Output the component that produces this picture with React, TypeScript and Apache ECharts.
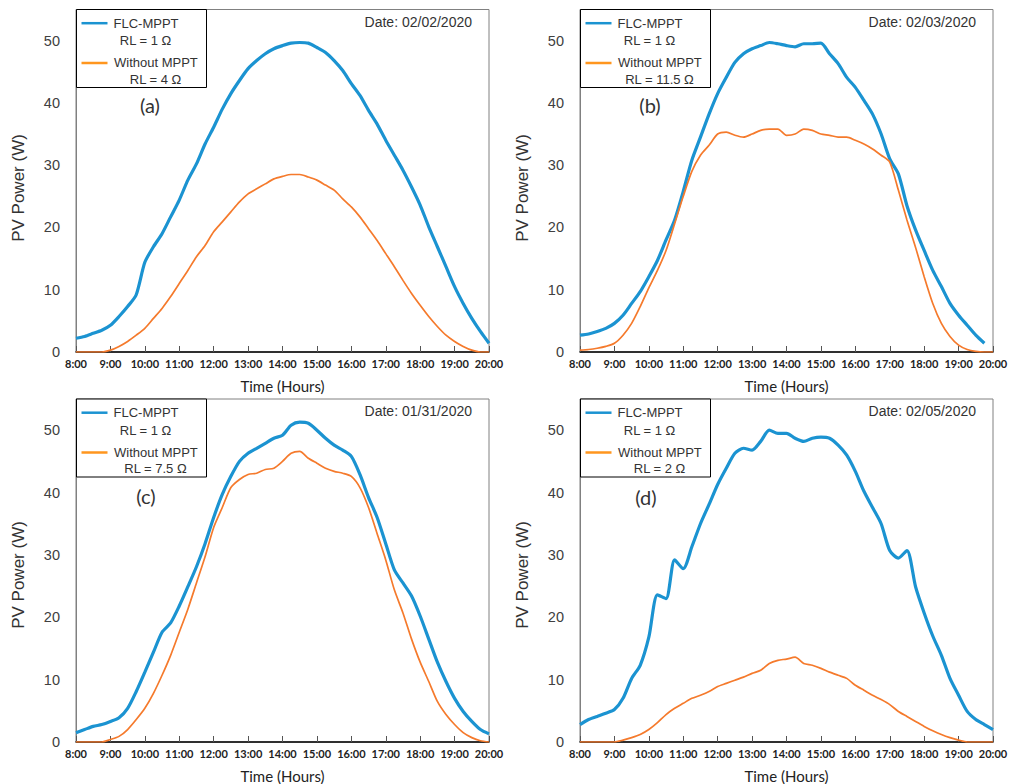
import React, { useEffect, useRef } from "react";
import * as echarts from "echarts";

// 15-minute time categories, 8:00 to 20:00
const times = [
  "8:00", "8:15", "8:30", "8:45", "9:00", "9:15", "9:30", "9:45",
  "10:00", "10:15", "10:30", "10:45", "11:00", "11:15", "11:30", "11:45",
  "12:00", "12:15", "12:30", "12:45", "13:00", "13:15", "13:30", "13:45",
  "14:00", "14:15", "14:30", "14:45", "15:00", "15:15", "15:30", "15:45",
  "16:00", "16:15", "16:30", "16:45", "17:00", "17:15", "17:30", "17:45",
  "18:00", "18:15", "18:30", "18:45", "19:00", "19:15", "19:30", "19:45",
  "20:00",
];

const yTicks = [0, 10, 20, 30, 40, 50];

// (a) 02/02/2020
const blueA = [
  2.2, 2.5, 3.0, 3.5, 4.3, 5.7, 7.3, 9.2, 14.4, 16.9, 19.0, 21.7,
  24.4, 27.6, 30.2, 33.4, 36.1, 39.0, 41.5, 43.6, 45.5, 46.8, 47.9, 48.7,
  49.2, 49.6, 49.7, 49.6, 48.9, 48.1, 46.8, 45.2, 43.1, 41.2, 38.8, 36.6,
  34.0, 31.6, 29.2, 26.5, 23.6, 20.1, 16.9, 13.7, 10.5, 7.8, 5.4, 3.3, 1.4,
];
const orangeA = [
  0, 0, 0, 0, 0.3, 0.9, 1.7, 2.7, 3.8, 5.4, 7.0, 8.9,
  11.0, 13.1, 15.3, 17.1, 19.3, 20.9, 22.5, 24.1, 25.4, 26.2, 27.0, 27.8,
  28.2, 28.5, 28.5, 28.1, 27.6, 26.8, 26.0, 24.6, 23.3, 21.7, 19.8, 17.9,
  15.8, 13.7, 11.5, 9.4, 7.5, 5.7, 4.1, 2.7, 1.7, 0.9, 0.3, 0, 0,
];

// (b) 02/03/2020
const blueB = [
  2.7, 2.9, 3.3, 3.8, 4.6, 5.9, 7.8, 9.7, 12.1, 14.7, 18.0, 21.2,
  25.8, 30.8, 34.5, 38.2, 41.5, 44.1, 46.5, 47.9, 48.7, 49.2, 49.7, 49.5,
  49.2, 49.0, 49.5, 49.5, 49.6, 47.9, 46.3, 44.1, 42.5, 40.4, 38.2, 35.0,
  31.0, 28.6, 23.5, 19.6, 16.3, 13.1, 10.5, 7.8, 5.9, 4.3, 2.7, 1.4, null,
];
const orangeB = [
  0.3, 0.4, 0.6, 0.9, 1.4, 2.7, 4.6, 7.3, 10.3, 13.1, 16.3, 20.6,
  25.0, 29.0, 31.6, 33.2, 35.0, 35.3, 34.8, 34.5, 35.0, 35.6, 35.8, 35.8,
  34.8, 35.0, 35.8, 35.6, 35.0, 34.8, 34.5, 34.5, 34.0, 33.4, 32.6, 31.6,
  30.5, 26.0, 21.2, 16.8, 12.1, 7.8, 4.6, 2.5, 1.1, 0.4, 0.1, 0, 0,
];

// (c) 01/31/2020
const blueC = [
  1.5, 2.0, 2.5, 2.8, 3.3, 3.9, 5.4, 8.1, 11.2, 14.4, 17.6, 19.1,
  21.8, 24.9, 28.1, 31.8, 36.0, 39.7, 42.6, 45.0, 46.3, 47.1, 47.9, 48.7,
  49.2, 50.8, 51.3, 51.1, 50.0, 48.7, 47.6, 46.8, 45.8, 42.9, 39.2, 36.0,
  31.8, 27.6, 25.5, 23.4, 20.2, 16.5, 12.8, 9.7, 7.0, 4.9, 3.3, 2.0, 1.3,
];
const orangeC = [
  0, 0, 0, 0, 0.4, 0.9, 2.0, 3.6, 5.4, 7.8, 10.7, 13.9,
  17.6, 21.3, 25.5, 29.7, 34.4, 37.6, 40.8, 42.1, 42.9, 43.1, 43.7, 43.9,
  45.0, 46.3, 46.6, 45.5, 44.7, 43.9, 43.4, 43.1, 42.6, 40.8, 37.6, 33.4,
  29.2, 24.4, 20.7, 16.5, 12.8, 9.7, 6.5, 4.4, 2.8, 1.5, 0.7, 0.2, 0,
];

// (d) 02/05/2020
const blueD = [
  2.8, 3.6, 4.1, 4.6, 5.2, 7.0, 10.2, 12.3, 16.8, 23.6, 23.0, 29.2,
  27.8, 31.3, 35.0, 38.1, 41.3, 43.9, 46.3, 47.1, 46.8, 48.2, 50.0, 49.5,
  49.5, 48.7, 48.2, 48.7, 48.9, 48.7, 47.6, 46.0, 43.4, 40.2, 37.6, 35.0,
  30.7, 29.5, 30.7, 24.9, 20.7, 17.0, 13.9, 10.2, 7.5, 4.9, 3.6, 2.8, 2.0,
];
const orangeD = [
  0, 0, 0, 0, 0, 0.3, 0.7, 1.2, 2.0, 3.1, 4.4, 5.4,
  6.2, 7.0, 7.5, 8.1, 8.9, 9.4, 9.9, 10.4, 11.0, 11.5, 12.6, 13.1,
  13.3, 13.6, 12.6, 12.3, 11.8, 11.2, 10.7, 10.2, 9.1, 8.3, 7.5, 6.8,
  6.0, 4.9, 4.1, 3.3, 2.5, 1.8, 1.2, 0.7, 0.3, 0, 0, 0, 0,
];

const blueName = "FLC-MPPT";
const blueRL = "RL = 1 Ω";
const orangeName = "Without MPPT";
const orangeRLs = ["RL = 4 Ω", "RL = 11.5 Ω", "RL = 7.5 Ω", "RL = 2 Ω"];
const dates = ["Date: 02/02/2020", "Date: 02/03/2020", "Date: 01/31/2020", "Date: 02/05/2020"];
const tags = ["(a)", "(b)", "(c)", "(d)"];
const blueSeries = [blueA, blueB, blueC, blueD];
const orangeSeries = [orangeA, orangeB, orangeC, orangeD];

const BLUE = "#1b93d1";
const ORANGE = "#f57a2c";
const ORANGE_LEG = "#ff961e";

const layout = [
  { left: 76, top: 9.5, height: 342.5, tagX: 150, tagY: 105, yTitleX: 18, yTitleY: 188 },
  { left: 580, top: 9.5, height: 342.5, tagX: 650, tagY: 105, yTitleX: 522, yTitleY: 188 },
  { left: 76, top: 399, height: 347, tagX: 146, tagY: 496, yTitleX: 18, yTitleY: 575 },
  { left: 580, top: 399, height: 347, tagX: 646, tagY: 497, yTitleX: 522, yTitleY: 575 },
];
const PLOT_W = 413;

function buildOption() {
  const grids: any[] = [];
  const xAxes: any[] = [];
  const yAxes: any[] = [];
  const series: any[] = [];
  const graphics: any[] = [];
  layout.forEach((L, i) => {
    grids.push({
      left: L.left,
      top: L.top,
      width: PLOT_W,
      height: L.height,
      show: true,
      borderColor: "#808080",
      borderWidth: 1,
      containLabel: false,
    });
    xAxes.push({
      type: "category",
      gridIndex: i,
      data: times,
      boundaryGap: false,
      axisLine: { show: true, lineStyle: { color: "#000", width: 1.5 } },
      axisTick: { show: true, inside: true, length: 6, interval: 3, lineStyle: { color: "#555" } },
      axisLabel: {
        interval: 3,
        fontFamily: "Lato",
        fontWeight: "bold",
        fontSize: 11,
        color: "#222",
        margin: 6,
      },
      splitLine: { show: false },
      name: "Time (Hours)",
      nameLocation: "middle",
      nameGap: 26,
      nameTextStyle: { fontFamily: "Lato", fontSize: 15, color: "#222" },
    });
    yAxes.push({
      type: "value",
      gridIndex: i,
      min: 0,
      max: 55,
      interval: 10,
      axisLine: { show: true, lineStyle: { color: "#808080" } },
      axisTick: { show: false },
      splitLine: { show: false },
      axisLabel: {
        formatter: (v: number) => (yTicks.indexOf(v) >= 0 ? String(v) : ""),
        fontFamily: "Liberation Sans",
        fontSize: 14.5,
        color: "#404040",
        margin: 16,
      },
    });
    series.push({
      type: "line",
      name: blueName,
      xAxisIndex: i,
      yAxisIndex: i,
      data: blueSeries[i],
      symbol: "none",
      showSymbol: false,
      smooth: 0.25,
      connectNulls: false,
      lineStyle: { color: BLUE, width: 3.2 },
      itemStyle: { color: BLUE },
      z: 3,
    });
    series.push({
      type: "line",
      name: orangeName,
      xAxisIndex: i,
      yAxisIndex: i,
      data: orangeSeries[i],
      symbol: "none",
      showSymbol: false,
      smooth: 0.25,
      lineStyle: { color: ORANGE, width: 1.7 },
      itemStyle: { color: ORANGE },
      z: 4,
    });

    // legend box
    const x0 = L.left + 0.5;
    const y0 = L.top;
    const textStyle = { fontFamily: "Liberation Sans", fontSize: 13, fill: "#333" };
    graphics.push(
      { type: "rect", z: 100, shape: { x: x0, y: y0, width: 130, height: 78 }, style: { fill: "#fff", stroke: "#000", lineWidth: 1 } },
      { type: "line", z: 101, shape: { x1: x0 + 5, y1: y0 + 13.7, x2: x0 + 31, y2: y0 + 13.7 }, style: { stroke: BLUE, lineWidth: 2.5 } },
      { type: "text", z: 101, x: x0 + 37, y: y0 + 13.7, style: { ...textStyle, text: blueName, align: "left", verticalAlign: "middle" } },
      { type: "text", z: 101, x: x0 + 69, y: y0 + 31, style: { ...textStyle, text: blueRL, align: "center", verticalAlign: "middle" } },
      { type: "line", z: 101, shape: { x1: x0 + 5, y1: y0 + 53.5, x2: x0 + 31, y2: y0 + 53.5 }, style: { stroke: ORANGE_LEG, lineWidth: 2.5 } },
      { type: "text", z: 101, x: x0 + 37.5, y: y0 + 53, style: { ...textStyle, text: orangeName, align: "left", verticalAlign: "middle" } },
      { type: "text", z: 101, x: x0 + 79, y: y0 + 69.5, style: { ...textStyle, text: orangeRLs[i], align: "center", verticalAlign: "middle" } },
      { type: "text", z: 101, x: L.left + 396, y: y0 + 12, style: { ...textStyle, fontSize: 14, text: dates[i], align: "right", verticalAlign: "middle" } },
      { type: "text", z: 101, x: L.tagX, y: L.tagY, style: { fontFamily: "Lato", fontSize: 20, fill: "#333", text: tags[i], align: "center", verticalAlign: "middle" } },
      {
        type: "text",
        z: 101,
        x: L.yTitleX,
        y: L.yTitleY,
        rotation: Math.PI / 2,
        style: { fontFamily: "Liberation Sans", fontSize: 17, fill: "#333", text: "PV Power (W)", align: "center", verticalAlign: "middle" },
      }
    );
  });

  return {
    animation: false,
    backgroundColor: "#fff",
    grid: grids,
    xAxis: xAxes,
    yAxis: yAxes,
    series,
    graphic: graphics,
  };
}

export default function App() {
  const ref = useRef<HTMLDivElement>(null);
  useEffect(() => {
    const chart = echarts.init(ref.current!, null, { renderer: "svg" });
    chart.setOption(buildOption() as any);
    return () => chart.dispose();
  }, []);
  return (
    <div
      ref={ref}
      style={{ position: "absolute", left: 0, top: 0, width: 1014, height: 784, background: "#fff" }}
    />
  );
}
